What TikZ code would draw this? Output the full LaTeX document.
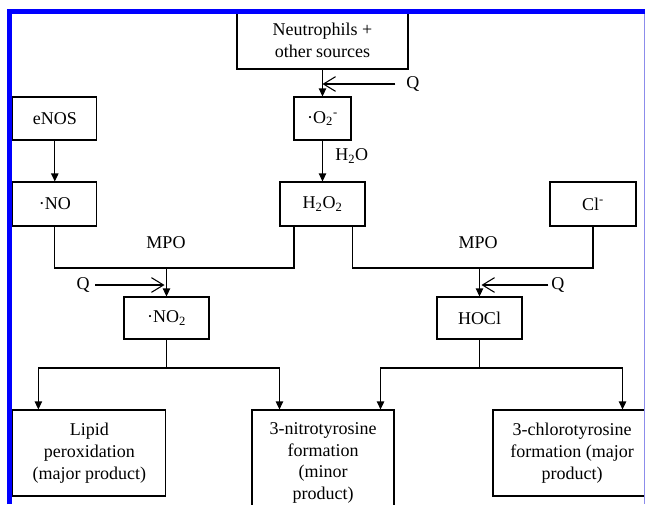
\documentclass[tikz,border=0pt]{standalone}
\usepackage{fontspec}
\setmainfont{Liberation Serif}
\usepackage{tikz}
\usetikzlibrary{arrows.meta, positioning}
\definecolor{framecolor}{RGB}{0, 0, 255}
\definecolor{framelight}{RGB}{140, 140, 235}
\tikzset{
  box/.style={draw, line width=0.8pt, fill=white, inner sep=0pt, align=center, font=\fontsize{13.5}{16.3}\selectfont},
  flow/.style={line width=0.8pt, -{Triangle[length=6pt, width=5.5pt]}},
  link/.style={line width=0.8pt},
  quench/.style={line width=0.8pt, -{Straight Barb[length=9pt, width=11pt]}},
  lbl/.style={inner sep=0pt, font=\fontsize{13.5}{16.3}\selectfont}
}

\begin{document}
\begin{tikzpicture}[x=0.75pt, y=-0.75pt]
    \useasboundingbox (0,0) rectangle (645,504);

    % Sources
    \node[box, minimum width=128.25pt, minimum height=42.75pt] (neut) at (322.5, 40.5) {Neutrophils +\\other sources};
    \node[box, minimum width=63pt, minimum height=32.25pt] (enos) at (54.8, 118.5) {eNOS};
    \node[box, minimum width=42.75pt, minimum height=32.25pt] (o2) at (322.5, 118.5) {·O\textsubscript{2}\textsuperscript{-}};

    % Intermediates
    \node[box, minimum width=63pt, minimum height=33pt] (no) at (54.8, 204) {·NO};
    \node[box, minimum width=63.75pt, minimum height=33pt] (h2o2) at (322.5, 204) {H\textsubscript{2}O\textsubscript{2}};
    \node[box, minimum width=64.5pt, minimum height=33pt] (cl) at (593, 204) {Cl\textsuperscript{-}};
    \node[box, minimum width=63.75pt, minimum height=31.5pt] (no2) at (166.5, 318) {·NO\textsubscript{2}};
    \node[box, minimum width=63.75pt, minimum height=31.5pt] (hocl) at (479.5, 318) {HOCl};

    % Products
    \node[box, minimum width=114.75pt, minimum height=64.5pt] (lipid) at (89.4, 453) {Lipid\\peroxidation\\(major product)};
    \node[box, minimum width=106.5pt, minimum height=79.5pt] (nitro) at (323, 463) {3-nitrotyrosine\\formation\\(minor\\product)};
    \node[box, minimum width=118.5pt, minimum height=64.5pt] (chloro) at (572, 453) {3-chlorotyrosine\\formation (major\\product)};

    % Labels
    \node[lbl, anchor=west] (h2o) at (335, 156) {H\textsubscript{2}O};
    \node[lbl] (mpoL) at (166, 243) {MPO};
    \node[lbl] (mpoR) at (478, 243) {MPO};
    \node[lbl, anchor=west] (q1) at (406, 84) {Q};
    \node[lbl, anchor=east] (q2) at (90, 285) {Q};
    \node[lbl, anchor=west] (q3) at (551, 285) {Q};

    % Junctions
    \coordinate (joinL) at (166.5, 268);
    \coordinate (joinR) at (479.5, 268);
    \coordinate (splitL) at (166.5, 368);
    \coordinate (splitR) at (479.5, 368);

    % Upper connections
    \draw[flow] (neut) -- (o2);
    \draw[flow] (enos) -- (no);
    \draw[flow] (o2) -- (h2o2);
    \draw[link] (no.south) |- (joinL);
    \draw[link] ([xshift=10.9pt]h2o2.south west) |- (joinL);
    \draw[flow] (joinL) -- (no2);
    \draw[link] ([xshift=-10.1pt]h2o2.south east) |- (joinR);
    \draw[link] (cl.south) |- (joinR);
    \draw[flow] (joinR) -- (hocl);

    % Q inputs
    \draw[quench, shorten <=8pt] (q1.west) -- (q1.west -| neut.south);
    \draw[quench, shorten <=4pt, shorten >=1.5pt] (q2.east) -- (q2.east -| joinL);
    \draw[quench, shorten <=2pt, shorten >=1.5pt] (q3.west) -- (q3.west -| joinR);

    % Lower connections
    \draw[link] (no2) -- (splitL);
    \draw[flow] (splitL) -| ([xshift=19.5pt]lipid.north west);
    \draw[flow] (splitL) -| ([xshift=21pt]nitro.north west);
    \draw[link] (hocl) -- (splitR);
    \draw[flow] (splitR) -| ([xshift=-10.5pt]nitro.north east);
    \draw[flow] (splitR) -| ([xshift=-21.75pt]chloro.north east);

    % Frame
    \draw[framecolor, line width=3.75pt] (9.5, 504) -- (9.5, 11.5) -- (645, 11.5);
    \draw[framelight, line width=0.75pt] (644.3, 14) -- (644.3, 504);
\end{tikzpicture}
\end{document}
